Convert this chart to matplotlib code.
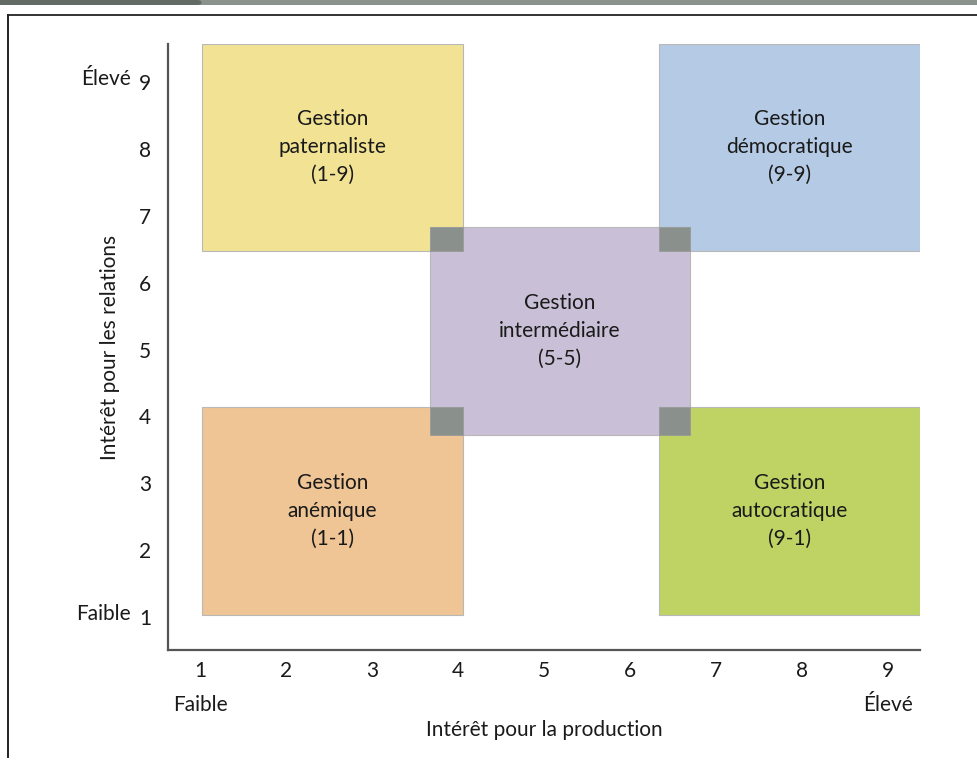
import matplotlib.pyplot as plt
from matplotlib.patches import Rectangle, FancyBboxPatch
from matplotlib.lines import Line2D

plt.rcParams['font.family'] = ['Lato', 'DejaVu Sans']

# boxes of the grid: (x0, x1, y0, y1), colour, label
names = ['Gestion\npaternaliste\n(1-9)', 'Gestion\ndémocratique\n(9-9)',
         'Gestion\nintermédiaire\n(5-5)', 'Gestion\nanémique\n(1-1)',
         'Gestion\nautocratique\n(9-1)']
x0 = [1.02, 6.34, 3.67, 1.02, 6.34]
x1 = [4.06, 9.37, 6.70, 4.06, 9.37]
y0 = [6.48, 6.48, 3.72, 1.03, 1.03]
y1 = [9.57, 9.57, 6.83, 4.14, 4.14]
colors = ['#f2e394', '#b4cae5', '#c9c0d7', '#efc595', '#bfd364']
overlap = '#8a918c'

ticks = list(range(1, 10))

fig = plt.figure(figsize=(9.78, 7.61), dpi=100)
ax = fig.add_axes([168 / 978, 1 - 650 / 761, (920 - 168) / 978, (650 - 44) / 761])
ax.set_xlim(0.628, 9.372)
ax.set_ylim(0.507, 9.568)

for i in range(len(names)):
    ax.add_patch(Rectangle((x0[i], y0[i]), x1[i] - x0[i], y1[i] - y0[i],
                           facecolor=colors[i], edgecolor='#b8b8b8', lw=0.8, zorder=1))
    ax.text((x0[i] + x1[i]) / 2, (y0[i] + y1[i]) / 2, names[i], ha='center', va='center',
            fontsize=15, linespacing=1.5, color='#1a1a1a', zorder=3)

# grey corners where the middle box overlaps the others
c = 2
for i in [0, 1, 3, 4]:
    ox0 = max(x0[i], x0[c]); ox1 = min(x1[i], x1[c])
    oy0 = max(y0[i], y0[c]); oy1 = min(y1[i], y1[c])
    ax.add_patch(Rectangle((ox0, oy0), ox1 - ox0, oy1 - oy0, facecolor=overlap,
                           edgecolor='#9a9a9a', lw=0.6, zorder=2))

ax.set_xticks(ticks)
ax.set_yticks(ticks)
ax.tick_params(length=0, labelsize=15, colors='#1a1a1a')
ax.tick_params(axis='x', pad=8)
ax.tick_params(axis='y', pad=12)
for s in ['top', 'right']:
    ax.spines[s].set_visible(False)
for s in ['left', 'bottom']:
    ax.spines[s].set_color('#555555')
    ax.spines[s].set_linewidth(1.6)

ax.set_xlabel('Intérêt pour la production', fontsize=15, labelpad=28, color='#1a1a1a')
ax.set_ylabel('Intérêt pour les relations', fontsize=15, labelpad=14, color='#1a1a1a')

ax.text(1, -0.09, 'Faible', transform=ax.get_xaxis_transform(), ha='center', va='center',
        fontsize=15, color='#1a1a1a')
ax.text(9, -0.09, 'Élevé', transform=ax.get_xaxis_transform(), ha='center', va='center',
        fontsize=15, color='#1a1a1a')
ax.text(-0.05, 9.05, 'Élevé', transform=ax.get_yaxis_transform(), ha='right', va='center',
        fontsize=15, color='#1a1a1a')
ax.text(-0.05, 1.05, 'Faible', transform=ax.get_yaxis_transform(), ha='right', va='center',
        fontsize=15, color='#1a1a1a')

# page frame
W, H = 978, 761
fig.patches.append(Rectangle((0, 1 - 5 / H), 1, 5 / H, transform=fig.transFigure,
                             facecolor='#8b938e', edgecolor='none'))
fig.patches.append(FancyBboxPatch((-20 / W, 1 - 5 / H), 222 / W, 5 / H,
                                  boxstyle='round,pad=0,rounding_size=0.005',
                                  transform=fig.transFigure, facecolor='#636b66',
                                  edgecolor='none'))
fig.lines.append(Line2D([8 / W, 1], [1 - 14.5 / H, 1 - 14.5 / H], transform=fig.transFigure,
                        color='#333333', lw=1.4))
fig.lines.append(Line2D([8 / W, 8 / W], [1 - 14.5 / H, 1 - 757 / H], transform=fig.transFigure,
                        color='#222222', lw=1.4))

fig.savefig('out.png', dpi=100)
